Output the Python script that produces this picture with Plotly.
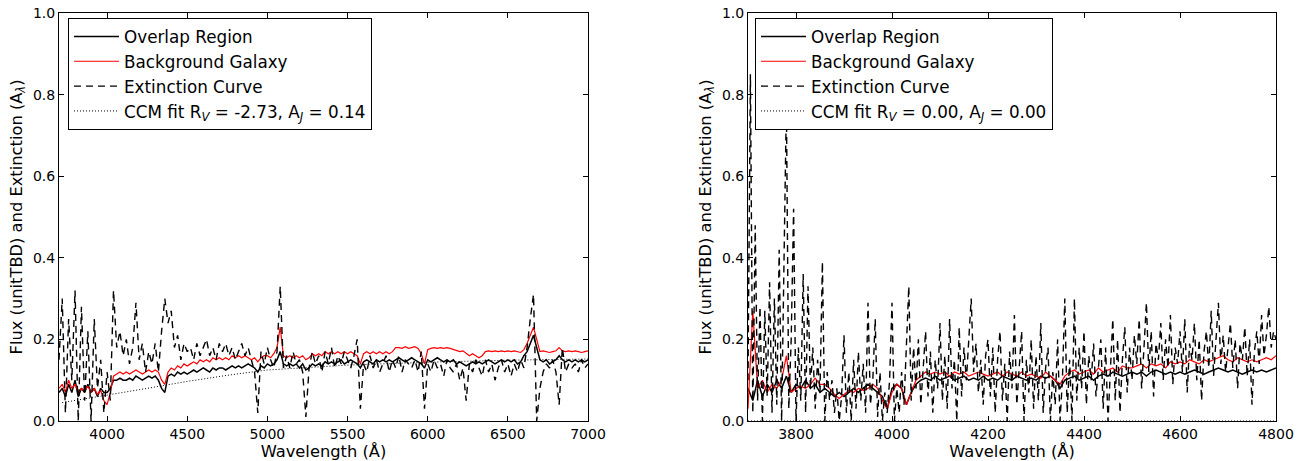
import numpy as np
import plotly.graph_objects as go
from plotly.subplots import make_subplots

# ---------------- LEFT PANEL DATA (20 A sampling from 3700 A) ----------------
left_start, left_step = 3700, 20
overlap_left = [
    0.07,
    0.08, 0.06, 0.09, 0.07, 0.10, 0.06, 0.08, 0.07, 0.09, 0.07, 0.08, 0.06, 0.08, 0.07, 0.07,
    0.08, 0.10, 0.10, 0.105, 0.10,
    0.10, 0.105, 0.10, 0.11, 0.105, 0.10, 0.105, 0.11, 0.105, 0.11,
    0.10, 0.08, 0.07, 0.11, 0.115, 0.11, 0.12, 0.115, 0.12, 0.115,
    0.12, 0.125, 0.12, 0.125, 0.13, 0.125, 0.12, 0.13, 0.125, 0.13,
    0.13, 0.125, 0.13, 0.135, 0.13, 0.135, 0.13, 0.135, 0.14, 0.135,
    0.13, 0.12, 0.135, 0.13, 0.14, 0.135, 0.14, 0.15, 0.17, 0.14,
    0.135, 0.14, 0.135, 0.14, 0.13, 0.14, 0.125, 0.13, 0.14, 0.135,
    0.14, 0.135, 0.145, 0.14, 0.145, 0.14, 0.145, 0.15, 0.14, 0.145,
    0.15, 0.145, 0.14, 0.13, 0.145, 0.15, 0.145, 0.14, 0.15, 0.145,
    0.15, 0.145, 0.15, 0.145, 0.15, 0.155, 0.15, 0.145, 0.15, 0.155,
    0.15, 0.145, 0.14, 0.13, 0.15, 0.145, 0.15, 0.155, 0.15, 0.145,
    0.15, 0.145, 0.15, 0.14, 0.145, 0.14, 0.135, 0.14, 0.145, 0.14,
    0.145, 0.14, 0.145, 0.15, 0.145, 0.14, 0.145, 0.15, 0.145, 0.15,
    0.145, 0.15, 0.14, 0.145, 0.16, 0.17, 0.19, 0.21, 0.18, 0.15,
    0.145, 0.15, 0.14, 0.145, 0.15, 0.16, 0.15, 0.145, 0.15, 0.145,
    0.15, 0.145, 0.15, 0.145, 0.15,
]
background_left = [
    0.08,
    0.09, 0.07, 0.10, 0.08, 0.09, 0.07, 0.08, 0.075, 0.085, 0.07, 0.08, 0.065, 0.075, 0.05, 0.04,
    0.07, 0.11, 0.115, 0.12, 0.115,
    0.12, 0.115, 0.12, 0.125, 0.12, 0.115, 0.12, 0.125, 0.12, 0.125,
    0.12, 0.10, 0.09, 0.12, 0.13, 0.125, 0.135, 0.13, 0.14, 0.135,
    0.14, 0.145, 0.14, 0.15, 0.145, 0.15, 0.145, 0.155, 0.15, 0.155,
    0.15, 0.155, 0.15, 0.16, 0.155, 0.16, 0.155, 0.16, 0.155, 0.15,
    0.155, 0.145, 0.155, 0.16, 0.16, 0.155, 0.165, 0.18, 0.23, 0.16,
    0.155, 0.16, 0.155, 0.16, 0.155, 0.16, 0.15, 0.155, 0.165, 0.16,
    0.165, 0.16, 0.17, 0.165, 0.17, 0.165, 0.17, 0.165, 0.17, 0.165,
    0.17, 0.165, 0.16, 0.14, 0.165, 0.17, 0.165, 0.17, 0.165, 0.17,
    0.165, 0.17, 0.165, 0.17, 0.18, 0.18, 0.178, 0.182, 0.178, 0.18,
    0.182, 0.178, 0.165, 0.14, 0.175, 0.178, 0.18, 0.178, 0.18, 0.178,
    0.18, 0.178, 0.175, 0.172, 0.17, 0.172, 0.165, 0.16, 0.165, 0.16,
    0.155, 0.16, 0.17, 0.172, 0.17, 0.172, 0.17, 0.172, 0.17, 0.172,
    0.17, 0.172, 0.17, 0.168, 0.175, 0.19, 0.21, 0.23, 0.20, 0.17,
    0.172, 0.17, 0.168, 0.17, 0.172, 0.18, 0.172, 0.17, 0.172, 0.17,
    0.172, 0.17, 0.168, 0.17, 0.172,
]
extinction_left = [
    0.15,
    0.30, 0.02, 0.25, 0.10, 0.32, 0.00, 0.28, 0.05, 0.22, 0.00, 0.25, 0.08, 0.15, 0.02, 0.12,
    0.05, 0.32, 0.18, 0.22, 0.16,
    0.20, 0.14, 0.18, 0.29, 0.15, 0.19, 0.12, 0.17, 0.14, 0.19,
    0.12, 0.22, 0.30, 0.24, 0.27, 0.18, 0.21, 0.15, 0.19, 0.17,
    0.18, 0.15, 0.19, 0.16, 0.18, 0.20, 0.16, 0.18, 0.15, 0.19,
    0.17, 0.19, 0.16, 0.18, 0.15, 0.17, 0.19, 0.16, 0.18, 0.15,
    0.12, 0.02, 0.17, 0.14, 0.18, 0.15, 0.13, 0.17, 0.33, 0.13,
    0.16, 0.13, 0.17, 0.14, 0.15, 0.12, 0.01, 0.13, 0.17, 0.14,
    0.16, 0.12, 0.17, 0.14, 0.18, 0.13, 0.16, 0.14, 0.17, 0.15,
    0.13, 0.16, 0.20, 0.03, 0.14, 0.12, 0.16, 0.13, 0.15, 0.12,
    0.14, 0.16, 0.12, 0.15, 0.13, 0.16, 0.12, 0.15, 0.14, 0.13,
    0.15, 0.12, 0.17, 0.03, 0.14, 0.12, 0.15, 0.13, 0.14, 0.11,
    0.15, 0.13, 0.12, 0.14, 0.10, 0.13, 0.05, 0.14, 0.12, 0.15,
    0.13, 0.11, 0.15, 0.12, 0.14, 0.10, 0.13, 0.15, 0.12, 0.14,
    0.11, 0.14, 0.12, 0.15, 0.13, 0.18, 0.25, 0.31, 0.00, 0.08,
    0.12, 0.14, 0.13, 0.15, 0.12, 0.04, 0.18, 0.12, 0.14, 0.13,
    0.14, 0.12, 0.15, 0.13, 0.14,
]
ccm_left_wl = [3720, 4000, 4250, 4500, 4750, 5000, 5500, 6000, 6500, 7000]
ccm_left = [0.045, 0.063, 0.080, 0.097, 0.112, 0.125, 0.137, 0.144, 0.149, 0.152]

# ---------------- RIGHT PANEL DATA ----------------
right_flux_start, right_flux_step = 3700, 10
overlap_right = [
    0.08, 0.05, 0.10, 0.06, 0.09, 0.07, 0.10, 0.08, 0.11, 0.07,
    0.09, 0.08, 0.10, 0.08, 0.09, 0.07, 0.08, 0.07, 0.06, 0.07,
    0.06, 0.07, 0.08, 0.07, 0.08, 0.09, 0.08, 0.07, 0.06, 0.03,
    0.08, 0.09, 0.08, 0.04, 0.07, 0.09, 0.10, 0.105, 0.10, 0.11,
    0.10, 0.105, 0.11, 0.10, 0.105, 0.11, 0.10, 0.105, 0.10, 0.11,
    0.10, 0.105, 0.10, 0.11, 0.105, 0.10, 0.11, 0.105, 0.10, 0.105,
    0.10, 0.11, 0.105, 0.11, 0.10, 0.08, 0.10, 0.105, 0.11, 0.10,
    0.105, 0.11, 0.10, 0.11, 0.115, 0.11, 0.12, 0.115, 0.11, 0.115,
    0.12, 0.115, 0.12, 0.11, 0.12, 0.125, 0.12, 0.115, 0.12, 0.115,
    0.12, 0.115, 0.12, 0.125, 0.12, 0.115, 0.12, 0.125, 0.13, 0.125,
    0.12, 0.125, 0.12, 0.115, 0.12, 0.125, 0.12, 0.125, 0.12, 0.125,
    0.13,
]
background_right = [
    0.03, 0.27, 0.08, 0.10, 0.07, 0.09, 0.08, 0.10, 0.16, 0.07,
    0.08, 0.085, 0.08, 0.09, 0.105, 0.09, 0.09, 0.08, 0.065, 0.055,
    0.065, 0.075, 0.07, 0.08, 0.075, 0.08, 0.09, 0.08, 0.05, 0.03,
    0.07, 0.09, 0.08, 0.04, 0.07, 0.10, 0.11, 0.12, 0.115, 0.12,
    0.115, 0.12, 0.11, 0.12, 0.115, 0.12, 0.11, 0.115, 0.12, 0.115,
    0.11, 0.115, 0.12, 0.11, 0.12, 0.115, 0.11, 0.12, 0.11, 0.115,
    0.11, 0.105, 0.12, 0.11, 0.10, 0.09, 0.11, 0.12, 0.125, 0.115,
    0.12, 0.125, 0.115, 0.13, 0.12, 0.125, 0.13, 0.12, 0.135, 0.13,
    0.13, 0.135, 0.14, 0.13, 0.14, 0.135, 0.14, 0.13, 0.145, 0.14,
    0.145, 0.14, 0.15, 0.145, 0.14, 0.15, 0.145, 0.15, 0.155, 0.16,
    0.15, 0.145, 0.155, 0.15, 0.145, 0.15, 0.145, 0.15, 0.155, 0.15,
    0.16,
]
right_ext_start, right_ext_step = 3700, 5
extinction_right = [
    0.10, 0.85, 0.02, 0.48, 0.05, 0.28, 0.00, 0.27, 0.06, 0.34,
    0.02, 0.30, 0.04, 0.42, 0.00, 0.35, 0.78, 0.03, 0.20, 0.52,
    0.00, 0.18, 0.05, 0.36, 0.02, 0.33, 0.08, 0.18, 0.03, 0.15,
    0.07, 0.39, 0.00, 0.12, 0.05, 0.10, 0.02, 0.08, 0.00, 0.06,
    0.21, 0.02, 0.12, 0.00, 0.15, 0.03, 0.17, 0.05, 0.14, 0.02,
    0.29, 0.04, 0.10, 0.25, 0.01, 0.12, 0.00, 0.07, 0.02, 0.10,
    0.29, 0.00, 0.08, 0.02, 0.12, 0.04, 0.20, 0.33, 0.05, 0.18,
    0.08, 0.20, 0.04, 0.14, 0.22, 0.06, 0.17, 0.02, 0.15, 0.08,
    0.24, 0.05, 0.16, 0.03, 0.25, 0.08, 0.15, 0.00, 0.23, 0.06,
    0.18, 0.10, 0.20, 0.30, 0.12, 0.19, 0.07, 0.15, 0.04, 0.16,
    0.20, 0.06, 0.18, 0.02, 0.15, 0.22, 0.05, 0.14, 0.00, 0.17,
    0.08, 0.26, 0.04, 0.12, 0.22, 0.00, 0.15, 0.07, 0.20, 0.03,
    0.16, 0.05, 0.24, 0.02, 0.13, 0.18, 0.00, 0.12, 0.04, 0.20,
    0.00, 0.10, 0.30, 0.02, 0.15, 0.00, 0.30, 0.05, 0.18, 0.08,
    0.22, 0.04, 0.16, 0.10, 0.19, 0.06, 0.14, 0.20, 0.03, 0.18,
    0.00, 0.12, 0.25, 0.05, 0.20, 0.02, 0.15, 0.23, 0.07, 0.18,
    0.10, 0.21, 0.14, 0.25, 0.08, 0.18, 0.29, 0.12, 0.22, 0.06,
    0.19, 0.15, 0.24, 0.10, 0.20, 0.13, 0.26, 0.09, 0.18, 0.14,
    0.22, 0.12, 0.25, 0.07, 0.19, 0.15, 0.24, 0.10, 0.20, 0.05,
    0.17, 0.22, 0.13, 0.27, 0.11, 0.20, 0.29, 0.14, 0.21, 0.12,
    0.18, 0.24, 0.13, 0.20, 0.08, 0.19, 0.15, 0.23, 0.11, 0.20,
    0.04, 0.17, 0.22, 0.14, 0.26, 0.16, 0.21, 0.28, 0.18, 0.22,
    0.20,
]
ccm_right_wl = [3700, 4800]
ccm_right = [0.0, 0.0]

left_xticks = [4000, 4500, 5000, 5500, 6000, 6500, 7000]
right_xticks = [3800, 4000, 4200, 4400, 4600, 4800]
yticks = [0.0, 0.2, 0.4, 0.6, 0.8, 1.0]

wl_left = left_start + left_step * np.arange(len(overlap_left))
wl_left_bg = left_start + left_step * np.arange(len(background_left))
wl_left_ext = left_start + left_step * np.arange(len(extinction_left))
wl_right = right_flux_start + right_flux_step * np.arange(len(overlap_right))
wl_right_bg = right_flux_start + right_flux_step * np.arange(len(background_right))
wl_right_ext = right_ext_start + right_ext_step * np.arange(len(extinction_right))

W, H = 1305, 461
ml, mr, mt, mb = 59, 29, 13, 40
pw = W - ml - mr
ph = H - mt - mb
d1 = [0, (588 - ml) / pw]
d2 = [(748 - ml) / pw, 1]

fig = make_subplots(rows=1, cols=2)

DASH = "7px,5px"
DOT = "1px,2px"

def add_panel(col, wl_o, o, wl_b, b, wl_e, e, wl_c, c, ccm_label, legend_name):
    fig.add_trace(go.Scatter(x=wl_o, y=o, mode="lines", name="Overlap Region",
                             line=dict(color="black", width=1.5), legend=legend_name), row=1, col=col)
    fig.add_trace(go.Scatter(x=wl_b, y=b, mode="lines", name="Background Galaxy",
                             line=dict(color="#ff0000", width=1.2), legend=legend_name), row=1, col=col)
    fig.add_trace(go.Scatter(x=wl_e, y=e, mode="lines", name="Extinction Curve",
                             line=dict(color="black", width=1.4, dash=DASH), legend=legend_name), row=1, col=col)
    fig.add_trace(go.Scatter(x=wl_c, y=c, mode="lines", name=ccm_label,
                             line=dict(color="black", width=1, dash=DOT), legend=legend_name), row=1, col=col)

add_panel(1, wl_left, overlap_left, wl_left_bg, background_left, wl_left_ext, extinction_left,
          ccm_left_wl, ccm_left, "CCM fit R<sub><i>V</i></sub> = -2.73, A<sub><i>J</i></sub> = 0.14", "legend")
add_panel(2, wl_right, overlap_right, wl_right_bg, background_right, wl_right_ext, extinction_right,
          ccm_right_wl, ccm_right, "CCM fit R<sub><i>V</i></sub> = 0.00, A<sub><i>J</i></sub> = 0.00", "legend2")

TICKFONT = dict(family="DejaVu Sans", size=14, color="black")
TITLEFONT = dict(family="DejaVu Sans", size=16.3, color="black")
ytitle = "Flux (unitTBD) and Extinction (A<sub><i>λ</i></sub>)"

axis_common = dict(showline=True, linecolor="black", linewidth=1, mirror="ticks",
                   ticks="inside", ticklen=5, tickwidth=1, tickcolor="black",
                   showgrid=False, zeroline=False, tickfont=TICKFONT)

fig.update_xaxes(domain=d1, range=[3700, 7000], tickvals=left_xticks,
                 title=dict(text="Wavelength (Å)", font=TITLEFONT, standoff=2), row=1, col=1, **axis_common)
fig.update_xaxes(domain=d2, range=[3700, 4800], tickvals=right_xticks,
                 title=dict(text="Wavelength (Å)", font=TITLEFONT, standoff=2), row=1, col=2, **axis_common)
for col in (1, 2):
    fig.update_yaxes(range=[0, 1], tickvals=yticks, tickformat=".1f",
                     title=dict(text=ytitle, font=TITLEFONT, standoff=6), row=1, col=col, **axis_common)

legend_style = dict(bgcolor="white", bordercolor="black", borderwidth=1,
                    font=dict(family="DejaVu Sans", size=16.8, color="black"),
                    xanchor="left", yanchor="top", tracegroupgap=0, itemwidth=45)

fig.update_layout(
    width=W, height=H,
    margin=dict(l=ml, r=mr, t=mt, b=mb, autoexpand=False),
    paper_bgcolor="white", plot_bgcolor="white",
    font=TICKFONT,
    legend=dict(x=(68 - ml) / pw, y=1 - (18 - mt) / ph, **legend_style),
    legend2=dict(x=(755 - ml) / pw, y=1 - (18 - mt) / ph, **legend_style),
)

fig.write_html("out.html", config={"displayModeBar": False},
               post_script="document.body.style.margin='0';document.body.style.overflow='hidden';")
